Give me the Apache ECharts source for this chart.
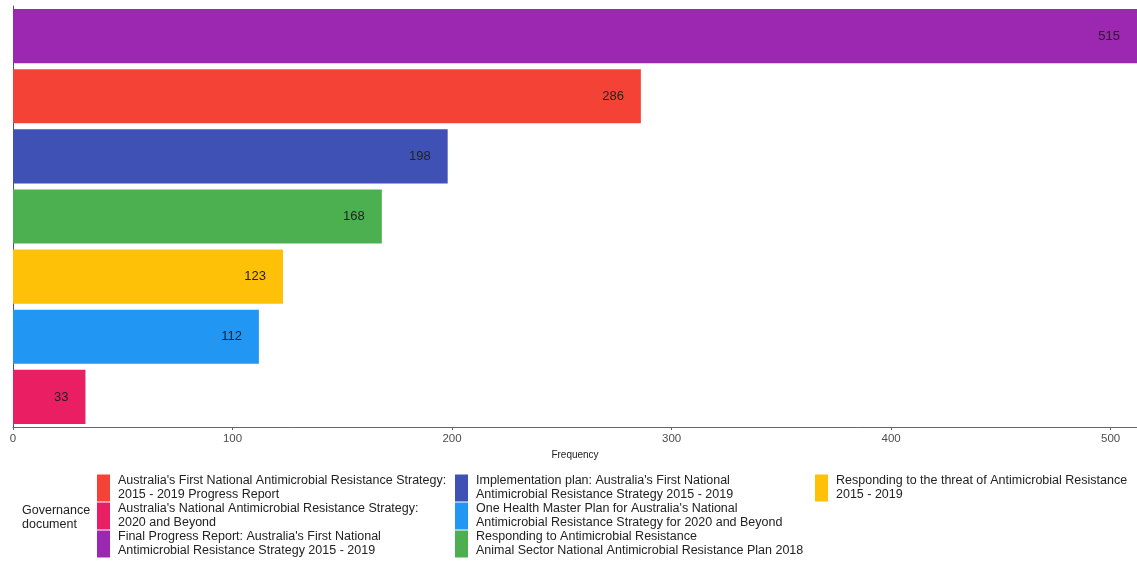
<!DOCTYPE html>
<html><head><meta charset="utf-8">
<script src="https://cdn.jsdelivr.net/npm/echarts@6/dist/echarts.min.js"></script>
<style>html,body{margin:0;padding:0;background:#fff;overflow:hidden}#c{width:1137px;height:564px}</style>
</head><body><div id="c"></div>
<script>
// bottom-to-top order
var categories = [
  "Australia's National Antimicrobial Resistance Strategy:\n2020 and Beyond",
  "One Health Master Plan for Australia's National\nAntimicrobial Resistance Strategy for 2020 and Beyond",
  "Responding to the threat of Antimicrobial Resistance\n2015 - 2019",
  "Responding to Antimicrobial Resistance\nAnimal Sector National Antimicrobial Resistance Plan 2018",
  "Implementation plan: Australia's First National\nAntimicrobial Resistance Strategy 2015 - 2019",
  "Australia's First National Antimicrobial Resistance Strategy:\n2015 - 2019 Progress Report",
  "Final Progress Report: Australia's First National\nAntimicrobial Resistance Strategy 2015 - 2019"
];
var values = [33, 112, 123, 168, 198, 286, 515];
var colors = ["#E91E63", "#2196F3", "#FFC107", "#4CAF50", "#3F51B5", "#F44336", "#9C27B0"];
var xTicks = [0, 100, 200, 300, 400, 500];
// legend columns (as in reference)
var legendCol1 = [categories[5], categories[0], categories[6]];
var legendCol2 = [categories[4], categories[1], categories[3]];
var legendCol3 = [categories[2]];

var series = categories.map(function (name, i) {
  var d = values.map(function (v, j) { return j === i ? v : '-'; });
  return {
    name: name, type: 'bar', stack: 'all', data: d,
    barCategoryGap: '10%',
    itemStyle: { color: colors[i] },
    label: { show: true, position: 'insideRight', distance: 17, color: '#222', fontSize: 13, fontFamily: 'Liberation Sans, Arial' }
  };
});

function mkLegend(data, left) {
  return {
    data: data, orient: 'vertical', left: left, top: 474, padding: 0,
    height: 90,
    icon: 'rect', itemWidth: 13, itemHeight: 27, itemGap: 0,
    selectedMode: false,
    textStyle: { fontSize: 12.5, lineHeight: 14, color: '#222', fontFamily: 'Liberation Sans, Arial', padding: [0, 0, 0, 3] }
  };
}

var chart = echarts.init(document.getElementById('c'));
chart.setOption({
  animation: false,
  grid: { left: 13, right: 0, top: 6, bottom: 137, outerBoundsMode: 'none', containLabel: false },
  xAxis: {
    type: 'value', min: 0, max: 512, interval: 100,
    name: 'Frequency', nameLocation: 'middle', nameGap: 19,
    nameTextStyle: { fontSize: 10, color: '#222', fontFamily: 'Liberation Sans, Arial' },
    axisLine: { show: true, lineStyle: { color: '#666', width: 1 } },
    axisTick: { show: true, length: 3, lineStyle: { color: '#666' } },
    axisLabel: { fontSize: 11.5, color: '#4d4d4d', margin: 6, fontFamily: 'Liberation Sans, Arial',
      formatter: function (v) { return xTicks.indexOf(v) >= 0 ? String(v) : ''; } },
    splitLine: { show: false }
  },
  yAxis: {
    type: 'category', data: categories,
    axisLine: { show: true, lineStyle: { color: '#555', width: 1 } },
    axisTick: { show: false }, axisLabel: { show: false }
  },
  legend: [mkLegend(legendCol1, 97), mkLegend(legendCol2, 455), mkLegend(legendCol3, 815)],
  graphic: [{
    type: 'text', left: 22, top: 504,
    style: { text: 'Governance\ndocument', fontSize: 12.5, lineHeight: 14, fill: '#222', fontFamily: 'Liberation Sans, Arial' }
  }],
  series: series
});
</script></body></html>
